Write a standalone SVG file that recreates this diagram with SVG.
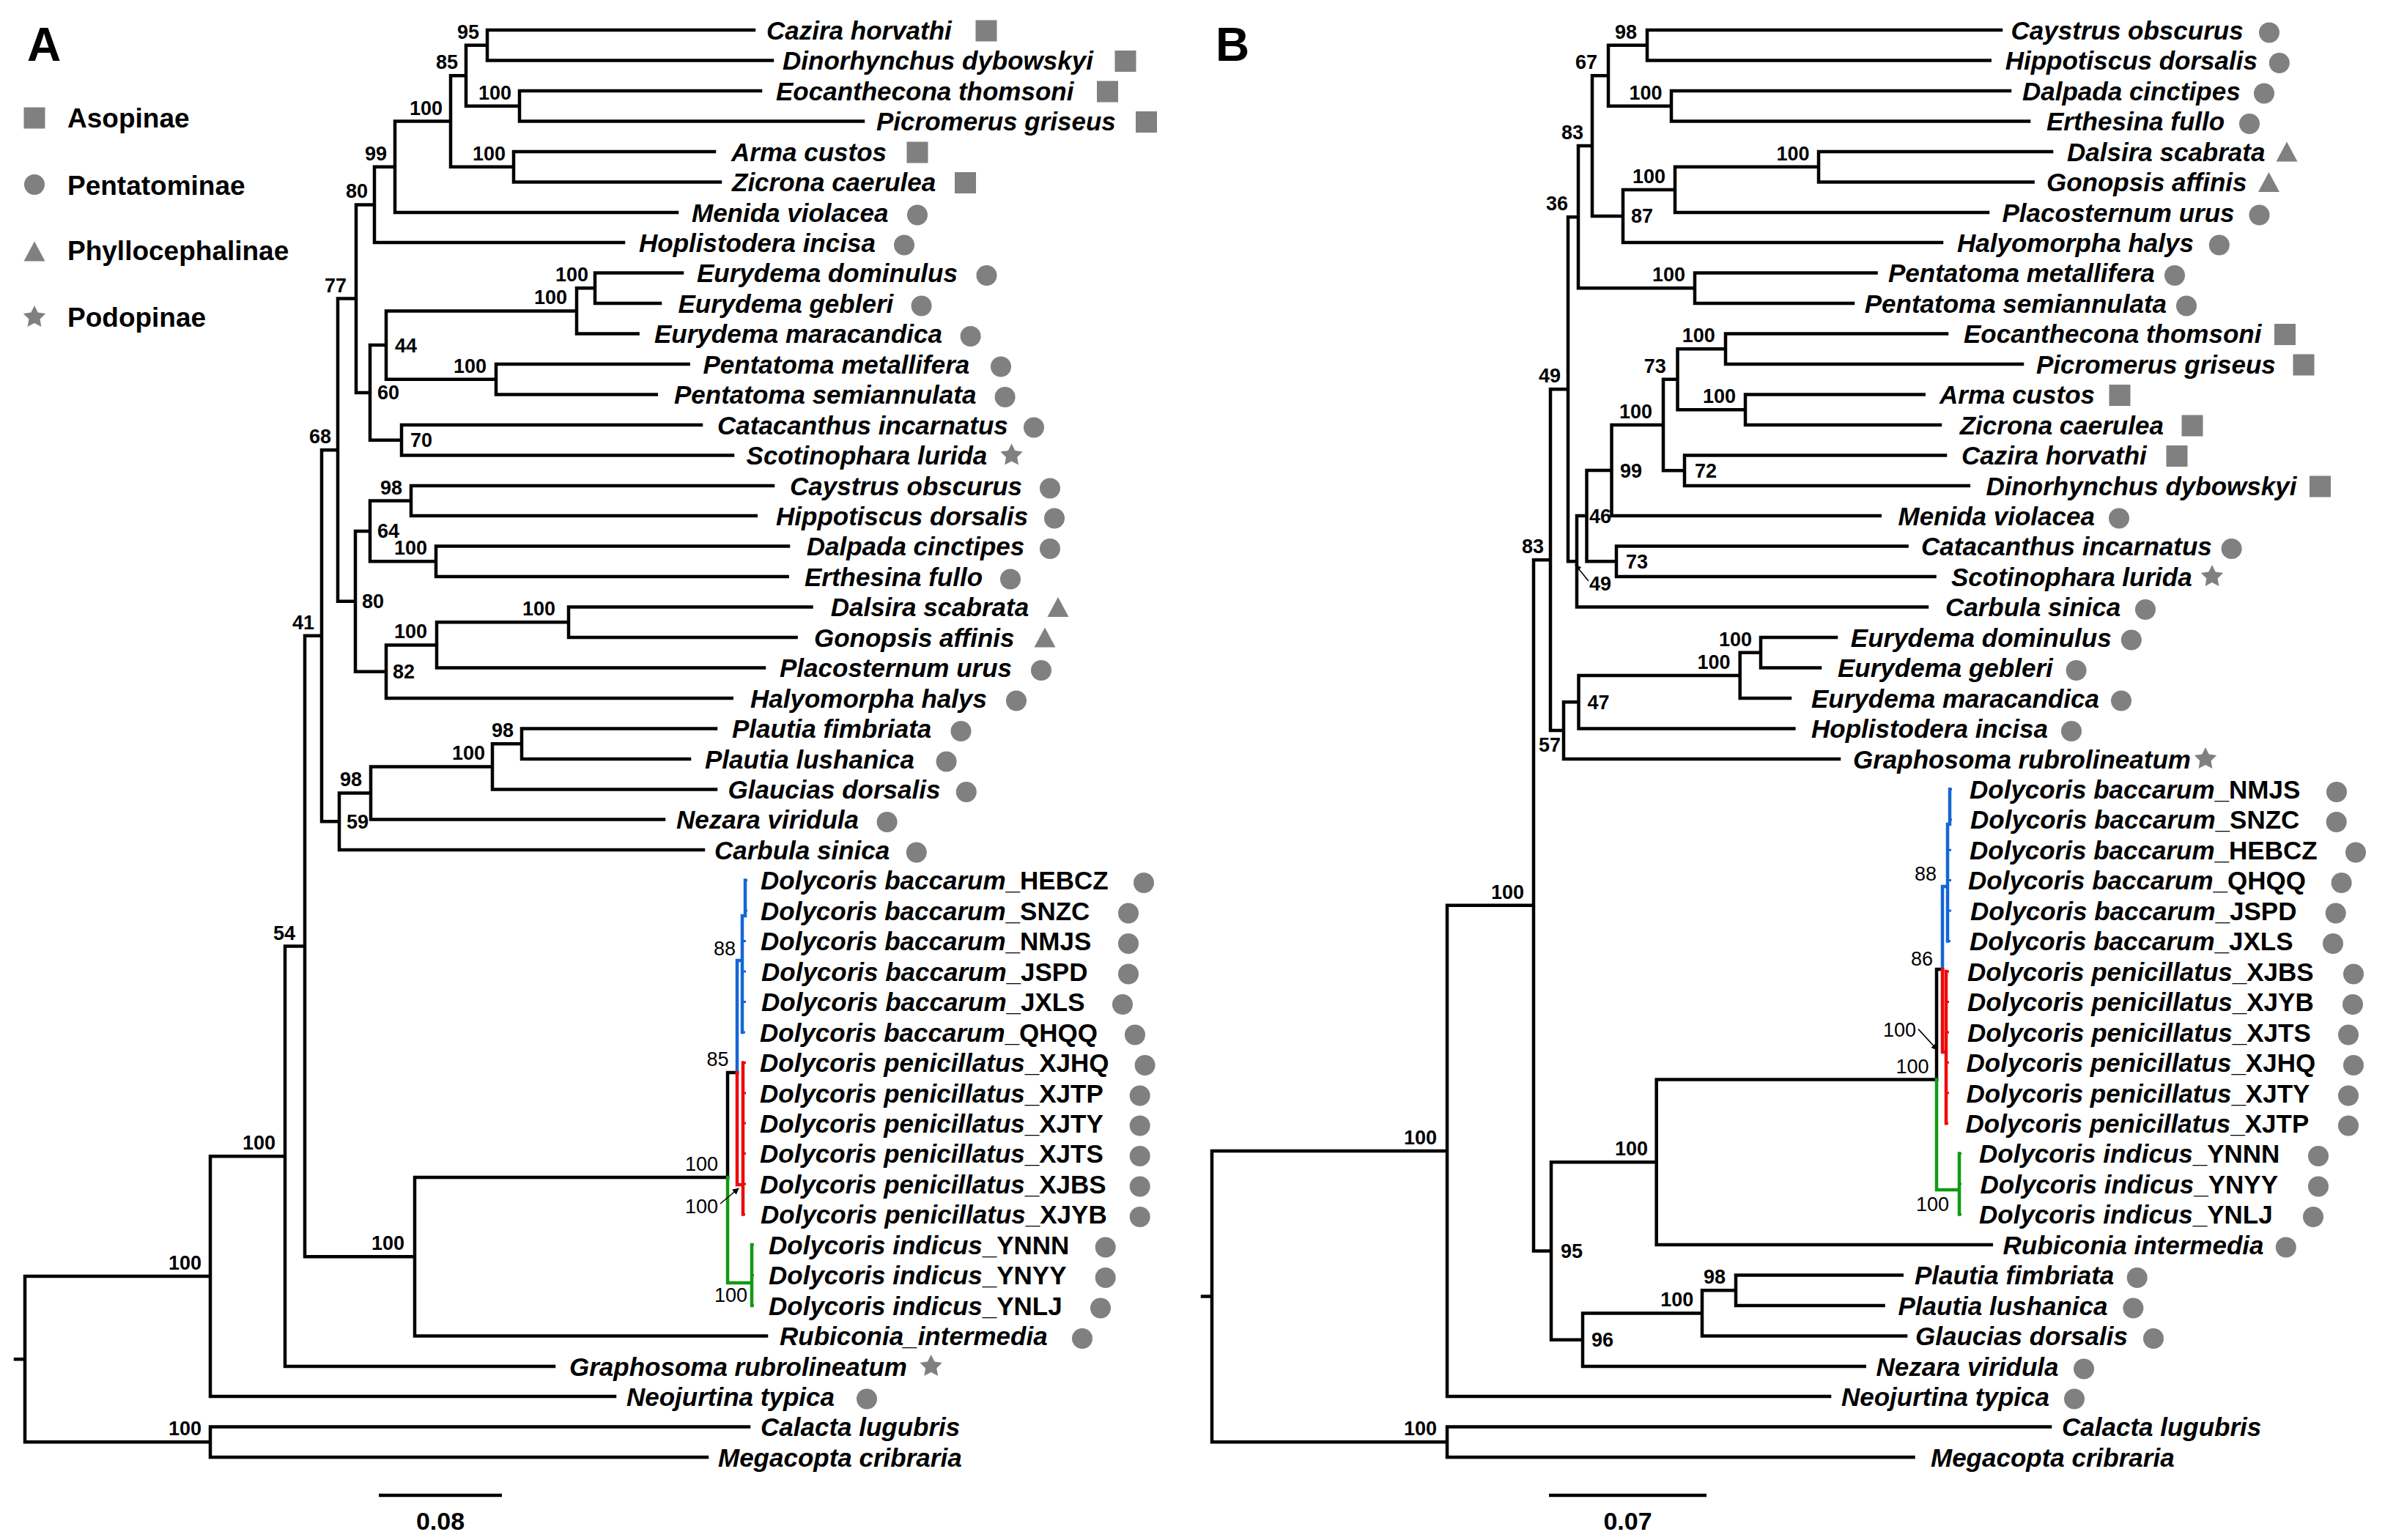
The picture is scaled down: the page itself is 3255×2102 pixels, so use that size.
<svg xmlns="http://www.w3.org/2000/svg" width="3255" height="2102" viewBox="0 0 3255 2102">
<style>
.br{fill:none;stroke:#000;stroke-width:4.5;stroke-linecap:square;stroke-linejoin:miter}
.cb{stroke:#1466d6}
.cr{stroke:#ee0a0a}
.cg{stroke:#119a11}
.tk{stroke-width:3;stroke-linecap:butt}
.tx{font-family:"Liberation Sans",Arial,Helvetica,sans-serif;font-size:35px;font-weight:bold;font-style:italic;fill:#000}
.up{font-style:normal}
.bs{font-family:"Liberation Sans",Arial,Helvetica,sans-serif;font-size:27px;font-weight:bold;fill:#000}
.e{text-anchor:end}
.n{font-weight:normal}
.lg{font-family:"Liberation Sans",Arial,Helvetica,sans-serif;font-size:37px;font-weight:bold;fill:#000}
.pl{font-family:"Liberation Sans",Arial,Helvetica,sans-serif;font-size:64px;font-weight:bold;fill:#000}
.sc{font-family:"Liberation Sans",Arial,Helvetica,sans-serif;font-size:34px;font-weight:bold;text-anchor:middle;fill:#000}
.ar{stroke:#000;stroke-width:1.6;fill:none}
</style>
<defs>
<circle id="ci" r="14" fill="#808080"/>
<rect id="sq" x="-14.5" y="-14.5" width="29" height="29" fill="#808080"/>
<polygon id="tr" points="0,-13.5 -14.5,13.5 14.5,13.5" fill="#808080"/>
<polygon id="st" points="0,-16 4.7,-6.5 15.2,-4.9 7.6,2.5 9.4,12.9 0,8 -9.4,12.9 -7.6,2.5 -15.2,-4.9 -4.7,-6.5" fill="#808080"/>
<marker id="ah" viewBox="0 0 10 10" refX="9" refY="5" markerWidth="9" markerHeight="9" orient="auto" markerUnits="userSpaceOnUse"><path d="M0,0 L10,5 L0,10 z" fill="#000"/></marker>
</defs>
<rect width="3255" height="2102" fill="#fff"/>

<g id="panel-labels">
<text class="pl" x="37" y="83">A</text>
<text class="pl" x="1659" y="83">B</text>
</g>

<g id="legend">
<g id="legend-asopinae"><use href="#sq" x="47" y="161"/><text class="lg" x="92" y="174">Asopinae</text></g>
<g id="legend-pentatominae"><use href="#ci" x="47" y="252"/><text class="lg" x="92" y="265.5">Pentatominae</text></g>
<g id="legend-phyllocephalinae"><use href="#tr" x="47" y="343"/><text class="lg" x="92" y="355">Phyllocephalinae</text></g>
<g id="legend-podopinae"><use href="#st" x="47" y="433"/><text class="lg" x="92" y="446">Podopinae</text></g>
</g>

<g id="connectors-A">
<path class="br" d="M1029 41H665V82.5H1054 M1038 124H709V165.5H1178 M665 61.75H636V144.75H709 M975 207H701V248.5H983 M636 103.25H615V227.75H701 M615 165.5H539V290H924 M539 227.75H511V331H851 M931 372.5H812V414H901 M812 393.25H787V455.5H870.6 M939.6 497H677V538.5H895.7 M787 424.4H527V517.75H677 M957 580H548V621.5H1000 M527 471H505V600.75H548 M511 279.4H486V535.9H505 M1055 663H561V704H1031.7 M1076 745.5H595V787H1074.6 M561 683.5H505V766.25H595 M1107.5 828.5H776V870H1086.6 M776 849.25H596V911.5H1043 M596 880.4H527V953H998.7 M505 724.9H485V916.7H527 M486 407.6H461V820.8H485 M977 994.5H712V1036H941 M712 1015.25H672V1077.5H977 M672 1046.4H506V1118.5H906 M506 1082.4H463V1160H960 M461 614.2H439V1121.2H463 M993 1607H566V1823.5H1046 M439 867.7H416V1715.25H566 M416 1291.5H389V1865H756 M389 1578.2H287V1906H839 M1022 1947.5H287V1989H965 M287 1742.1H34V1968.25H287 M21 1855.2H34"/>
<path class="br" d="M993 1607V1464H1006"/>
<path class="br cb" d="M1006 1464V1311H1013 M1013 1250V1409 M1013 1250H1017V1201.5"/>
<path class="br cb tk" d="M1017 1201.5H1020 M1017 1243H1020 M1013 1284.5H1018 M1013 1326H1018 M1013 1367.5H1018 M1013 1409H1017"/>
<path class="br cr" d="M1006 1464V1617H1014 M1014 1450.5V1657.5"/>
<path class="br cr tk" d="M1014 1450.5H1018 M1014 1492H1018 M1014 1533H1018 M1014 1574.5H1018 M1014 1616H1018 M1014 1657.5H1017"/>
<path class="br cg" d="M993 1607V1751H1026 M1026 1699V1782"/>
<path class="br cg tk" d="M1026 1699H1029 M1026 1740.5H1029 M1026 1782H1029"/>
<line class="ar" x1="983" y1="1643" x2="1008" y2="1622" marker-end="url(#ah)"/>
</g>

<g id="support-A">
<text class="bs e" x="654" y="52.75">95</text>
<text class="bs e" x="625" y="94.25">85</text>
<text class="bs e" x="604" y="156.5">100</text>
<text class="bs e" x="698" y="135.75">100</text>
<text class="bs e" x="690" y="218.75">100</text>
<text class="bs e" x="528" y="218.75">99</text>
<text class="bs e" x="502" y="270.4">80</text>
<text class="bs e" x="473" y="398.6">77</text>
<text class="bs e" x="452" y="605.2">68</text>
<text class="bs e" x="429" y="858.7">41</text>
<text class="bs e" x="403" y="1282.5">54</text>
<text class="bs e" x="376" y="1569.2">100</text>
<text class="bs e" x="275" y="1733.1">100</text>
<text class="bs e" x="275" y="1959.25">100</text>
<text class="bs e" x="803" y="384.25">100</text>
<text class="bs e" x="774" y="415.4">100</text>
<text class="bs e" x="664" y="508.75">100</text>
<text class="bs" x="539" y="480.5">44</text>
<text class="bs" x="515" y="545.4">60</text>
<text class="bs" x="560" y="610.25">70</text>
<text class="bs e" x="549" y="674.5">98</text>
<text class="bs" x="515" y="734.4">64</text>
<text class="bs e" x="583" y="757.25">100</text>
<text class="bs" x="494" y="830.3">80</text>
<text class="bs e" x="758" y="840.25">100</text>
<text class="bs e" x="583" y="871.4">100</text>
<text class="bs" x="536" y="926.2">82</text>
<text class="bs e" x="701" y="1006.25">98</text>
<text class="bs e" x="662" y="1037.4">100</text>
<text class="bs e" x="494" y="1073.4">98</text>
<text class="bs" x="473" y="1130.7">59</text>
<text class="bs e" x="552" y="1706.25">100</text>
<text class="bs e n" x="980" y="1598">100</text>
<text class="bs e n" x="994.6" y="1455">85</text>
<text class="bs e n" x="1004" y="1304">88</text>
<text class="bs e n" x="980" y="1655.6">100</text>
<text class="bs e n" x="1020" y="1777">100</text>
</g>

<g id="taxa-A">
<g id="A-cazira-horvathi"><text class="tx" x="1046" y="53.5">Cazira horvathi</text><use href="#sq" x="1346" y="42"/></g>
<g id="A-dinorhynchus-dybowskyi"><text class="tx" x="1068" y="95">Dinorhynchus dybowskyi</text><use href="#sq" x="1536" y="83.5"/></g>
<g id="A-eocanthecona-thomsoni"><text class="tx" x="1059" y="136.5">Eocanthecona thomsoni</text><use href="#sq" x="1511.5" y="125"/></g>
<g id="A-picromerus-griseus"><text class="tx" x="1196" y="178">Picromerus griseus</text><use href="#sq" x="1564.5" y="166.5"/></g>
<g id="A-arma-custos"><text class="tx" x="998" y="219.5">Arma custos</text><use href="#sq" x="1252" y="208"/></g>
<g id="A-zicrona-caerulea"><text class="tx" x="999" y="261">Zicrona caerulea</text><use href="#sq" x="1317.5" y="249.5"/></g>
<g id="A-menida-violacea"><text class="tx" x="944" y="302.5">Menida violacea</text><use href="#ci" x="1252" y="293.5"/></g>
<g id="A-hoplistodera-incisa"><text class="tx" x="872" y="343.5">Hoplistodera incisa</text><use href="#ci" x="1234" y="334.5"/></g>
<g id="A-eurydema-dominulus"><text class="tx" x="951" y="385">Eurydema dominulus</text><use href="#ci" x="1346.5" y="376"/></g>
<g id="A-eurydema-gebleri"><text class="tx" x="925.5" y="426.5">Eurydema gebleri</text><use href="#ci" x="1257.6" y="417.5"/></g>
<g id="A-eurydema-maracandica"><text class="tx" x="893" y="468">Eurydema maracandica</text><use href="#ci" x="1324.6" y="459"/></g>
<g id="A-pentatoma-metallifera"><text class="tx" x="959.5" y="509.5">Pentatoma metallifera</text><use href="#ci" x="1366" y="500.5"/></g>
<g id="A-pentatoma-semiannulata"><text class="tx" x="920" y="551">Pentatoma semiannulata</text><use href="#ci" x="1371.6" y="542"/></g>
<g id="A-catacanthus-incarnatus"><text class="tx" x="979" y="592.5">Catacanthus incarnatus</text><use href="#ci" x="1411" y="583.5"/></g>
<g id="A-scotinophara-lurida"><text class="tx" x="1018.6" y="634">Scotinophara lurida</text><use href="#st" x="1380.6" y="621.5"/></g>
<g id="A-caystrus-obscurus"><text class="tx" x="1078" y="675.5">Caystrus obscurus</text><use href="#ci" x="1433" y="666.5"/></g>
<g id="A-hippotiscus-dorsalis"><text class="tx" x="1059" y="716.5">Hippotiscus dorsalis</text><use href="#ci" x="1439" y="707.5"/></g>
<g id="A-dalpada-cinctipes"><text class="tx" x="1100.7" y="758">Dalpada cinctipes</text><use href="#ci" x="1433" y="749"/></g>
<g id="A-erthesina-fullo"><text class="tx" x="1098" y="799.5">Erthesina fullo</text><use href="#ci" x="1379" y="790.5"/></g>
<g id="A-dalsira-scabrata"><text class="tx" x="1133.7" y="841">Dalsira scabrata</text><use href="#tr" x="1444" y="828.5"/></g>
<g id="A-gonopsis-affinis"><text class="tx" x="1111" y="882.5">Gonopsis affinis</text><use href="#tr" x="1426" y="870"/></g>
<g id="A-placosternum-urus"><text class="tx" x="1064" y="924">Placosternum urus</text><use href="#ci" x="1421" y="915"/></g>
<g id="A-halyomorpha-halys"><text class="tx" x="1024" y="965.5">Halyomorpha halys</text><use href="#ci" x="1387" y="956.5"/></g>
<g id="A-plautia-fimbriata"><text class="tx" x="999" y="1007">Plautia fimbriata</text><use href="#ci" x="1311.5" y="998"/></g>
<g id="A-plautia-lushanica"><text class="tx" x="962" y="1048.5">Plautia lushanica</text><use href="#ci" x="1291.6" y="1039.5"/></g>
<g id="A-glaucias-dorsalis"><text class="tx" x="993.5" y="1090">Glaucias dorsalis</text><use href="#ci" x="1318.8" y="1081"/></g>
<g id="A-nezara-viridula"><text class="tx" x="923" y="1131">Nezara viridula</text><use href="#ci" x="1210.6" y="1122"/></g>
<g id="A-carbula-sinica"><text class="tx" x="975" y="1172.5">Carbula sinica</text><use href="#ci" x="1250.8" y="1163.5"/></g>
<g id="A-baccarum-HEBCZ"><text class="tx" x="1038" y="1214">Dolycoris baccarum<tspan class="up">_HEBCZ</tspan></text><use href="#ci" x="1561" y="1205"/></g>
<g id="A-baccarum-SNZC"><text class="tx" x="1038" y="1255.5">Dolycoris baccarum<tspan class="up">_SNZC</tspan></text><use href="#ci" x="1540" y="1246.5"/></g>
<g id="A-baccarum-NMJS"><text class="tx" x="1038" y="1297">Dolycoris baccarum<tspan class="up">_NMJS</tspan></text><use href="#ci" x="1540" y="1288"/></g>
<g id="A-baccarum-JSPD"><text class="tx" x="1039" y="1338.5">Dolycoris baccarum<tspan class="up">_JSPD</tspan></text><use href="#ci" x="1540" y="1329.5"/></g>
<g id="A-baccarum-JXLS"><text class="tx" x="1039" y="1380">Dolycoris baccarum<tspan class="up">_JXLS</tspan></text><use href="#ci" x="1532" y="1371"/></g>
<g id="A-baccarum-QHQQ"><text class="tx" x="1037" y="1421.5">Dolycoris baccarum<tspan class="up">_QHQQ</tspan></text><use href="#ci" x="1549" y="1412.5"/></g>
<g id="A-penicillatus-XJHQ"><text class="tx" x="1037" y="1463">Dolycoris penicillatus<tspan class="up">_XJHQ</tspan></text><use href="#ci" x="1562.6" y="1454"/></g>
<g id="A-penicillatus-XJTP"><text class="tx" x="1037" y="1504.5">Dolycoris penicillatus<tspan class="up">_XJTP</tspan></text><use href="#ci" x="1555.7" y="1495.5"/></g>
<g id="A-penicillatus-XJTY"><text class="tx" x="1037" y="1545.5">Dolycoris penicillatus<tspan class="up">_XJTY</tspan></text><use href="#ci" x="1555.7" y="1536.5"/></g>
<g id="A-penicillatus-XJTS"><text class="tx" x="1037" y="1587">Dolycoris penicillatus<tspan class="up">_XJTS</tspan></text><use href="#ci" x="1555.7" y="1578"/></g>
<g id="A-penicillatus-XJBS"><text class="tx" x="1037" y="1628.5">Dolycoris penicillatus<tspan class="up">_XJBS</tspan></text><use href="#ci" x="1555.7" y="1619.5"/></g>
<g id="A-penicillatus-XJYB"><text class="tx" x="1038" y="1670">Dolycoris penicillatus<tspan class="up">_XJYB</tspan></text><use href="#ci" x="1555.7" y="1661"/></g>
<g id="A-indicus-YNNN"><text class="tx" x="1049" y="1711.5">Dolycoris indicus<tspan class="up">_YNNN</tspan></text><use href="#ci" x="1508.7" y="1702.5"/></g>
<g id="A-indicus-YNYY"><text class="tx" x="1049" y="1753">Dolycoris indicus<tspan class="up">_YNYY</tspan></text><use href="#ci" x="1508.7" y="1744"/></g>
<g id="A-indicus-YNLJ"><text class="tx" x="1049" y="1794.5">Dolycoris indicus<tspan class="up">_YNLJ</tspan></text><use href="#ci" x="1502" y="1785.5"/></g>
<g id="A-rubiconia-intermedia"><text class="tx" x="1064" y="1836">Rubiconia_intermedia</text><use href="#ci" x="1477" y="1827"/></g>
<g id="A-graphosoma-rubrolineatum"><text class="tx" x="777" y="1877.5">Graphosoma rubrolineatum</text><use href="#st" x="1270.7" y="1865"/></g>
<g id="A-neojurtina-typica"><text class="tx" x="855" y="1918.5">Neojurtina typica</text><use href="#ci" x="1183" y="1909.5"/></g>
<g id="A-calacta-lugubris"><text class="tx" x="1038" y="1960">Calacta lugubris</text></g>
<g id="A-megacopta-cribraria"><text class="tx" x="980" y="2001.5">Megacopta cribraria</text></g>
</g>

<g id="scale-A">
<line x1="517" y1="2041" x2="685" y2="2041" stroke="#000" stroke-width="4.5"/>
<text class="sc" x="601" y="2088">0.08</text>
</g>

<g id="connectors-B">
<path class="br" d="M2731 41H2248V82.5H2715.7 M2743 124H2281V165.5H2769 M2248 61.75H2195V144.75H2281 M2800 207H2482V248.5H2774.6 M2482 227.75H2286V290H2713 M2286 258.9H2215V331H2650 M2195 103.25H2173V294.9H2215 M2560.5 372.5H2313V414H2529 M2173 199.1H2154V393.25H2313 M2657 455.5H2355V497H2760 M2625.7 538.5H2382V580H2648 M2355 476.25H2289.5V559.25H2382 M2655 621.5H2299V663H2686.8 M2289.5 517.75H2270V642.25H2299 M2270 580H2199.5V704H2565.7 M2602.6 745.5H2206V787H2640.5 M2199.5 642H2165.5V766.25H2206 M2165.5 704.1H2152V828.5H2630 M2154 296.2H2140V766.3H2152 M2506 870H2403V911.5H2484 M2403 890.75H2374.7V953H2443 M2374.7 921.9H2154.5V994.5H2448.4 M2154.5 958.2H2134V1036H2510 M2140 531.25H2116V997.1H2134 M2643 1473.5H2260.7V1699H2717.8 M2595.7 1740.5H2369V1782H2570.5 M2369 1761.25H2323V1823.5H2601 M2323 1792.4H2160V1865H2544.7 M2260.7 1586.25H2117V1828.7H2160 M2116 764.2H2093V1707.5H2117 M2093 1235.85H1975V1906H2497 M2798 1947.5H1975V1989H2611.5 M1975 1570.9H1654V1968.25H1975 M1641 1769.6H1654"/>
<path class="br" d="M2643 1473.5V1323H2651"/>
<path class="br cb" d="M2651 1323V1210H2658 M2658 1125V1284.5 M2658 1125H2661V1077.3"/>
<path class="br cb tk" d="M2661 1077.3H2664 M2661 1118.7H2664 M2658 1160.2H2663 M2658 1201.6H2663 M2658 1243H2663 M2658 1284.5H2662"/>
<path class="br cr" d="M2651 1323V1436H2656 M2656 1326V1533.2"/>
<path class="br cr tk" d="M2656 1326H2660 M2656 1367.4H2660 M2656 1408.9H2660 M2656 1450.3H2660 M2656 1491.8H2660 M2656 1533.2H2659"/>
<path class="br cg" d="M2643 1473.5V1624H2674 M2674 1574.6V1657.5"/>
<path class="br cg tk" d="M2674 1574.6H2677 M2674 1616H2677 M2674 1657.5H2677"/>
<line class="ar" x1="2618" y1="1404.6" x2="2644" y2="1433" marker-end="url(#ah)"/>
<line class="ar" x1="2168" y1="793" x2="2150" y2="771" marker-end="url(#ah)"/>
</g>

<g id="support-B">
<text class="bs e" x="2234" y="52.75">98</text>
<text class="bs e" x="2180" y="94.25">67</text>
<text class="bs e" x="2161" y="190.1">83</text>
<text class="bs e" x="2140" y="287.2">36</text>
<text class="bs e" x="2130" y="522.25">49</text>
<text class="bs e" x="2469.5" y="218.75">100</text>
<text class="bs e" x="2268.5" y="135.75">100</text>
<text class="bs e" x="2273" y="249.9">100</text>
<text class="bs" x="2226" y="304.4">87</text>
<text class="bs e" x="2300" y="384.25">100</text>
<text class="bs e" x="2340.7" y="467.25">100</text>
<text class="bs e" x="2273.8" y="508.75">73</text>
<text class="bs e" x="2369" y="550.25">100</text>
<text class="bs e" x="2255" y="571">100</text>
<text class="bs" x="2211" y="651.5">99</text>
<text class="bs" x="2313" y="651.75">72</text>
<text class="bs" x="2169" y="713.6">46</text>
<text class="bs" x="2219" y="775.75">73</text>
<text class="bs" x="2169" y="806">49</text>
<text class="bs e" x="2107" y="755.2">83</text>
<text class="bs e" x="2391" y="881.75">100</text>
<text class="bs e" x="2361.6" y="912.9">100</text>
<text class="bs" x="2166.5" y="967.7">47</text>
<text class="bs e" x="2130" y="1026">57</text>
<text class="bs e" x="2080" y="1226.85">100</text>
<text class="bs e" x="1961" y="1561.9">100</text>
<text class="bs e" x="1961" y="1959.25">100</text>
<text class="bs" x="2130" y="1717">95</text>
<text class="bs e" x="2249" y="1577.25">100</text>
<text class="bs" x="2172" y="1838.2">96</text>
<text class="bs e" x="2311.4" y="1783.4">100</text>
<text class="bs e" x="2355" y="1752.25">98</text>
<text class="bs e n" x="2632.6" y="1464.5">100</text>
<text class="bs e n" x="2638" y="1318">86</text>
<text class="bs e n" x="2643" y="1202">88</text>
<text class="bs e n" x="2615" y="1415">100</text>
<text class="bs e n" x="2660" y="1653">100</text>
</g>

<g id="taxa-B">
<g id="B-caystrus-obscurus"><text class="tx" x="2744.6" y="53.5">Caystrus obscurus</text><use href="#ci" x="3097" y="44.5"/></g>
<g id="B-hippotiscus-dorsalis"><text class="tx" x="2736.7" y="95">Hippotiscus dorsalis</text><use href="#ci" x="3110.8" y="86"/></g>
<g id="B-dalpada-cinctipes"><text class="tx" x="2760" y="136.5">Dalpada cinctipes</text><use href="#ci" x="3090" y="127.5"/></g>
<g id="B-erthesina-fullo"><text class="tx" x="2793" y="178">Erthesina fullo</text><use href="#ci" x="3070" y="169"/></g>
<g id="B-dalsira-scabrata"><text class="tx" x="2821" y="219.5">Dalsira scabrata</text><use href="#tr" x="3121" y="207"/></g>
<g id="B-gonopsis-affinis"><text class="tx" x="2793" y="261">Gonopsis affinis</text><use href="#tr" x="3096.5" y="248.5"/></g>
<g id="B-placosternum-urus"><text class="tx" x="2732.5" y="302.5">Placosternum urus</text><use href="#ci" x="3083.5" y="293.5"/></g>
<g id="B-halyomorpha-halys"><text class="tx" x="2671" y="343.5">Halyomorpha halys</text><use href="#ci" x="3028.8" y="334.5"/></g>
<g id="B-pentatoma-metallifera"><text class="tx" x="2577" y="385">Pentatoma metallifera</text><use href="#ci" x="2968" y="376"/></g>
<g id="B-pentatoma-semiannulata"><text class="tx" x="2544.7" y="426.5">Pentatoma semiannulata</text><use href="#ci" x="2984" y="417.5"/></g>
<g id="B-eocanthecona-thomsoni"><text class="tx" x="2680" y="468">Eocanthecona thomsoni</text><use href="#sq" x="3118.5" y="456.5"/></g>
<g id="B-picromerus-griseus"><text class="tx" x="2779" y="509.5">Picromerus griseus</text><use href="#sq" x="3144" y="498"/></g>
<g id="B-arma-custos"><text class="tx" x="2647" y="551">Arma custos</text><use href="#sq" x="2893" y="539.5"/></g>
<g id="B-zicrona-caerulea"><text class="tx" x="2674.7" y="592.5">Zicrona caerulea</text><use href="#sq" x="2992" y="581"/></g>
<g id="B-cazira-horvathi"><text class="tx" x="2677" y="634">Cazira horvathi</text><use href="#sq" x="2971" y="622.5"/></g>
<g id="B-dinorhynchus-dybowskyi"><text class="tx" x="2710.4" y="675.5">Dinorhynchus dybowskyi</text><use href="#sq" x="3166.5" y="664"/></g>
<g id="B-menida-violacea"><text class="tx" x="2590.5" y="716.5">Menida violacea</text><use href="#ci" x="2892" y="707.5"/></g>
<g id="B-catacanthus-incarnatus"><text class="tx" x="2622" y="758">Catacanthus incarnatus</text><use href="#ci" x="3045.6" y="749"/></g>
<g id="B-scotinophara-lurida"><text class="tx" x="2663" y="799.5">Scotinophara lurida</text><use href="#st" x="3019" y="787"/></g>
<g id="B-carbula-sinica"><text class="tx" x="2655" y="841">Carbula sinica</text><use href="#ci" x="2928" y="832"/></g>
<g id="B-eurydema-dominulus"><text class="tx" x="2525.8" y="882.5">Eurydema dominulus</text><use href="#ci" x="2908.8" y="873.5"/></g>
<g id="B-eurydema-gebleri"><text class="tx" x="2508" y="924">Eurydema gebleri</text><use href="#ci" x="2833.6" y="915"/></g>
<g id="B-eurydema-maracandica"><text class="tx" x="2472" y="965.5">Eurydema maracandica</text><use href="#ci" x="2895" y="956.5"/></g>
<g id="B-hoplistodera-incisa"><text class="tx" x="2472" y="1007">Hoplistodera incisa</text><use href="#ci" x="2827" y="998"/></g>
<g id="B-graphosoma-rubrolineatum"><text class="tx" x="2529" y="1048.5">Graphosoma rubrolineatum</text><use href="#st" x="3010" y="1036"/></g>
<g id="B-baccarum-NMJS"><text class="tx" x="2688" y="1090">Dolycoris baccarum<tspan class="up">_NMJS</tspan></text><use href="#ci" x="3189" y="1081"/></g>
<g id="B-baccarum-SNZC"><text class="tx" x="2689" y="1131">Dolycoris baccarum<tspan class="up">_SNZC</tspan></text><use href="#ci" x="3188.7" y="1122"/></g>
<g id="B-baccarum-HEBCZ"><text class="tx" x="2688" y="1172.5">Dolycoris baccarum<tspan class="up">_HEBCZ</tspan></text><use href="#ci" x="3215" y="1163.5"/></g>
<g id="B-baccarum-QHQQ"><text class="tx" x="2686" y="1214">Dolycoris baccarum<tspan class="up">_QHQQ</tspan></text><use href="#ci" x="3195.6" y="1205"/></g>
<g id="B-baccarum-JSPD"><text class="tx" x="2689" y="1255.5">Dolycoris baccarum<tspan class="up">_JSPD</tspan></text><use href="#ci" x="3187.7" y="1246.5"/></g>
<g id="B-baccarum-JXLS"><text class="tx" x="2688" y="1297">Dolycoris baccarum<tspan class="up">_JXLS</tspan></text><use href="#ci" x="3184" y="1288"/></g>
<g id="B-penicillatus-XJBS"><text class="tx" x="2685" y="1338.5">Dolycoris penicillatus<tspan class="up">_XJBS</tspan></text><use href="#ci" x="3212" y="1329.5"/></g>
<g id="B-penicillatus-XJYB"><text class="tx" x="2685" y="1380">Dolycoris penicillatus<tspan class="up">_XJYB</tspan></text><use href="#ci" x="3211" y="1371"/></g>
<g id="B-penicillatus-XJTS"><text class="tx" x="2685" y="1421.5">Dolycoris penicillatus<tspan class="up">_XJTS</tspan></text><use href="#ci" x="3205" y="1412.5"/></g>
<g id="B-penicillatus-XJHQ"><text class="tx" x="2683.6" y="1463">Dolycoris penicillatus<tspan class="up">_XJHQ</tspan></text><use href="#ci" x="3212" y="1454"/></g>
<g id="B-penicillatus-XJTY"><text class="tx" x="2683.6" y="1504.5">Dolycoris penicillatus<tspan class="up">_XJTY</tspan></text><use href="#ci" x="3205" y="1495.5"/></g>
<g id="B-penicillatus-XJTP"><text class="tx" x="2682.5" y="1545.5">Dolycoris penicillatus<tspan class="up">_XJTP</tspan></text><use href="#ci" x="3205" y="1536.5"/></g>
<g id="B-indicus-YNNN"><text class="tx" x="2701" y="1587">Dolycoris indicus<tspan class="up">_YNNN</tspan></text><use href="#ci" x="3164" y="1578"/></g>
<g id="B-indicus-YNYY"><text class="tx" x="2702.5" y="1628.5">Dolycoris indicus<tspan class="up">_YNYY</tspan></text><use href="#ci" x="3164" y="1619.5"/></g>
<g id="B-indicus-YNLJ"><text class="tx" x="2701" y="1670">Dolycoris indicus<tspan class="up">_YNLJ</tspan></text><use href="#ci" x="3157" y="1661"/></g>
<g id="B-rubiconia-intermedia"><text class="tx" x="2733.6" y="1711.5">Rubiconia intermedia</text><use href="#ci" x="3119.8" y="1702.5"/></g>
<g id="B-plautia-fimbriata"><text class="tx" x="2613" y="1753">Plautia fimbriata</text><use href="#ci" x="2916.7" y="1744"/></g>
<g id="B-plautia-lushanica"><text class="tx" x="2590.5" y="1794.5">Plautia lushanica</text><use href="#ci" x="2911.4" y="1785.5"/></g>
<g id="B-glaucias-dorsalis"><text class="tx" x="2614" y="1836">Glaucias dorsalis</text><use href="#ci" x="2939" y="1827"/></g>
<g id="B-nezara-viridula"><text class="tx" x="2560.5" y="1877.5">Nezara viridula</text><use href="#ci" x="2844" y="1868.5"/></g>
<g id="B-neojurtina-typica"><text class="tx" x="2513" y="1918.5">Neojurtina typica</text><use href="#ci" x="2831" y="1909.5"/></g>
<g id="B-calacta-lugubris"><text class="tx" x="2814" y="1960">Calacta lugubris</text></g>
<g id="B-megacopta-cribraria"><text class="tx" x="2635" y="2001.5">Megacopta cribraria</text></g>
</g>

<g id="scale-B">
<line x1="2114" y1="2041" x2="2329" y2="2041" stroke="#000" stroke-width="4.5"/>
<text class="sc" x="2221.5" y="2088">0.07</text>
</g>
</svg>
